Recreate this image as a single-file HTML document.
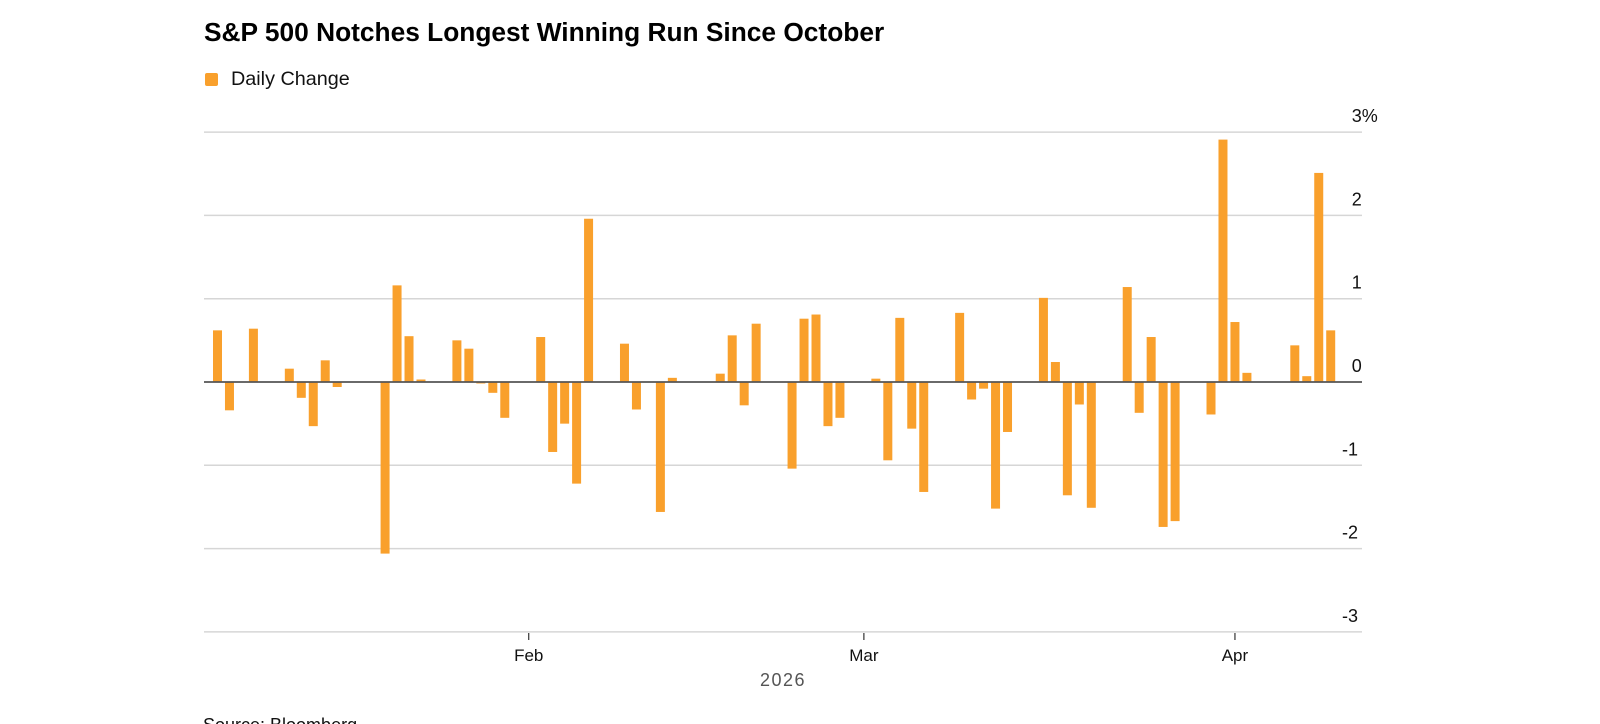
<!DOCTYPE html>
<html><head><meta charset="utf-8">
<style>
html,body{margin:0;padding:0;background:#fff;width:1600px;height:724px;overflow:hidden;font-family:"Liberation Sans",Arial,sans-serif;}
#title{position:absolute;left:204px;top:17px;font-size:26.3px;font-weight:bold;color:#000;letter-spacing:0;}
#legend{position:absolute;left:205px;top:68px;font-size:19.8px;color:#111;display:flex;align-items:center;}
#legend .sw{width:13px;height:13px;background:#f9a02c;border-radius:2px;margin-right:13px;}
svg{position:absolute;left:0;top:0;}
</style></head><body>
<div id="title">S&amp;P 500 Notches Longest Winning Run Since October</div>
<div id="legend"><div class="sw"></div><span>Daily Change</span></div>
<svg id="chart" width="1600" height="724"></svg>
<script>
const dates = ["01-06","01-07","01-09","01-12","01-13","01-14","01-15","01-16","01-20","01-21","01-22","01-23","01-26","01-27","01-28","01-29","01-30","02-02","02-03","02-04","02-05","02-06","02-09","02-10","02-12","02-13","02-17","02-18","02-19","02-20","02-23","02-24","02-25","02-26","02-27","03-02","03-03","03-04","03-05","03-06","03-09","03-10","03-11","03-12","03-13","03-16","03-17","03-18","03-19","03-20","03-23","03-24","03-25","03-26","03-27","03-30","03-31","04-01","04-02","04-06","04-07","04-08","04-09"];
const values = [0.62,-0.34,0.64,0.16,-0.19,-0.53,0.26,-0.06,-2.06,1.16,0.55,0.03,0.50,0.40,-0.01,-0.13,-0.43,0.54,-0.84,-0.50,-1.22,1.96,0.46,-0.33,-1.56,0.05,0.10,0.56,-0.28,0.70,-1.04,0.76,0.81,-0.53,-0.43,0.04,-0.94,0.77,-0.56,-1.32,0.83,-0.21,-0.08,-1.52,-0.60,1.01,0.24,-1.36,-0.27,-1.51,1.14,-0.37,0.54,-1.74,-1.67,-0.39,2.91,0.72,0.11,0.44,0.07,2.51,0.62];
const yTicks = [3,2,1,0,-1,-2,-3];
const yTickLabels = ["3%","2","1","0","-1","-2","-3"];
const monthTicks = ["02-01","03-01","04-01"];
const monthLabels = ["Feb","Mar","Apr"];

const NS="http://www.w3.org/2000/svg";
const svg=document.getElementById('chart');
const X0=204, X1=1362, Y0=382, PX=83.3;
const base=Date.UTC(2026,0,6);
function dayIdx(d){const [m,dd]=d.split('-').map(Number);return Math.round((Date.UTC(2026,m-1,dd)-base)/86400000);}
function xScale(d){return 217.5+dayIdx(d)*11.97;}
function yScale(v){return Y0-v*PX;}
function mk(tag,attrs){const e=document.createElementNS(NS,tag);for(const k in attrs)e.setAttribute(k,attrs[k]);svg.appendChild(e);return e;}

yTicks.forEach((t,i)=>{
  const y=yScale(t);
  if(t!==0){const g=mk('line',{x1:X0,x2:X1,y1:y,y2:y,stroke:'#d6d6d6','stroke-width':1.5});
  
  }
  const tx=mk('text',{x:X1,y:y-10,'font-size':18,fill:'#111','text-anchor':'start','font-family':'Liberation Sans, sans-serif'});
  tx.textContent=yTickLabels[i];
  const w=yTickLabels[i].replace('%','').length;
  tx.setAttribute('x',X1-(yTickLabels[i].startsWith('-')?w*10.5-1:w*10.2));
  
  
});
dates.forEach((d,i)=>{
  const v=values[i];const x=xScale(d)-4.5;
  const h=Math.max(Math.abs(v)*PX,1.5);
  const r=mk('rect',{x:x,y:v>=0?Y0-h:Y0,width:9,height:h,fill:'#f9a02c'});
  
  
});
const z=mk('line',{x1:X0,x2:X1,y1:Y0,y2:Y0,stroke:'#555','stroke-width':1.8});


monthTicks.forEach((d,i)=>{
  const x=xScale(d);
  const tk=mk('line',{x1:x,x2:x,y1:633,y2:640,stroke:'#333','stroke-width':1.2});
  
  
  const t=mk('text',{x:x,y:661,'font-size':17,fill:'#111','text-anchor':'middle','font-family':'Liberation Sans, sans-serif'});
  t.textContent=monthLabels[i];
  
  
});
const yr=mk('text',{x:783,y:686,'font-size':18,fill:'#555','text-anchor':'middle','letter-spacing':'1.5','font-family':'Liberation Sans, sans-serif'});
yr.textContent='2026';


const src=mk('text',{x:203,y:731,'font-size':18,fill:'#111','font-family':'Liberation Sans, sans-serif'});
src.textContent='Source: Bloomberg';


</script>
</body></html>
